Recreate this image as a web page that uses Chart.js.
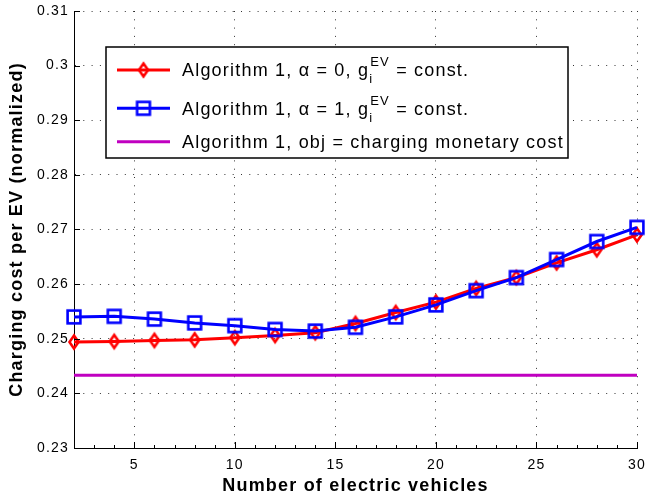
<!DOCTYPE html>
<html><head><meta charset="utf-8">
<script src="https://cdn.jsdelivr.net/npm/chart.js@4"></script>
<style>html,body{margin:0;padding:0;background:#fff;} #wrap{width:647px;height:498px;}</style>
</head><body><div id="wrap"><canvas id="c" width="647" height="498"></canvas></div>
<script>
// ---- data ----
const vehicles = [2, 4, 6, 8, 10, 12, 14, 16, 18, 20, 22, 24, 26, 28, 30];
const costAlpha0 = [0.2494, 0.2495, 0.2497, 0.2498, 0.2502, 0.2506, 0.2511, 0.2528, 0.2548, 0.2567, 0.2592, 0.2612, 0.2639, 0.2663, 0.2690];
const costAlpha1 = [0.2540, 0.2541, 0.2536, 0.2529, 0.2524, 0.2517, 0.2514, 0.2521, 0.2540, 0.2562, 0.2588, 0.2612, 0.2645, 0.2678, 0.2704];
const monetaryX = [2, 30];
const monetaryCost = [0.2433, 0.2433];
const xTickValues = [5, 10, 15, 20, 25, 30];
const yTickValues = [0.23, 0.24, 0.25, 0.26, 0.27, 0.28, 0.29, 0.30, 0.31];
const xTitle = 'Number of electric vehicles';
const yTitle = 'Charging cost per EV (normalized)';
const legendEntries = [
  {main: 'Algorithm 1, \u03b1 = 0, g', sub: 'i', sup: 'EV', tail: ' = const.'},
  {main: 'Algorithm 1, \u03b1 = 1, g', sub: 'i', sup: 'EV', tail: ' = const.'},
  {main: 'Algorithm 1, obj = charging monetary cost', sub: '', sup: '', tail: ''}
];

const FONT = '"Liberation Sans", Arial, Helvetica, sans-serif';
const RED = '#ff0000', BLUE = '#0000ff', MAGENTA = '#c000c0';

function makeDiamond() {
  const c = document.createElement('canvas'); c.width = 16; c.height = 22;
  const g = c.getContext('2d');
  g.strokeStyle = RED; g.lineWidth = 2.6; g.lineJoin = 'miter';
  g.beginPath(); g.moveTo(8, 11 - 6.4); g.lineTo(8 + 4.5, 11); g.lineTo(8, 11 + 6.4); g.lineTo(8 - 4.5, 11); g.closePath(); g.stroke();
  return c;
}
function makeSquare() {
  const c = document.createElement('canvas'); c.width = 18; c.height = 18;
  const g = c.getContext('2d');
  g.strokeStyle = BLUE; g.lineWidth = 2.6;
  g.strokeRect(9 - 6.4, 9 - 6.4, 12.8, 12.8);
  return c;
}
const diamondImg = makeDiamond();
const squareImg = makeSquare();

Chart.defaults.font.family = FONT;
Chart.defaults.color = '#000';

const spacingPlugin = {
  id: 'spacing',
  beforeUpdate(chart) { chart.ctx.letterSpacing = '1.2px'; },
  beforeLayout(chart) { chart.ctx.letterSpacing = '1.2px'; },
  beforeDraw(chart) { chart.ctx.letterSpacing = '1.2px'; }
};

const inwardTicks = {
  id: 'inwardTicks',
  afterDatasetsDraw(chart) {
    const ctx = chart.ctx, xs = chart.scales.x, ys = chart.scales.y, a = chart.chartArea;
    ctx.save();
    ctx.strokeStyle = '#000'; ctx.lineWidth = 1; ctx.setLineDash([]);
    ctx.beginPath();
    for (let v = Math.ceil(xs.min); v <= xs.max; v++) {
      const px = Math.round(xs.getPixelForValue(v)) + 0.5;
      const len = (v % 5 === 0) ? 6 : 3;
      ctx.moveTo(px, a.bottom); ctx.lineTo(px, a.bottom - len);
    }
    for (const t of ys.ticks) {
      const py = Math.round(ys.getPixelForValue(t.value)) + 0.5;
      ctx.moveTo(a.left, py); ctx.lineTo(a.left + 6, py);
    }
    ctx.stroke();
    ctx.restore();
  }
};

const customLegend = {
  id: 'customLegend',
  afterDraw(chart) {
    const ctx = chart.ctx, a = chart.chartArea;
    const bx = a.left + 32, by = a.top + 36, bw = 462, bh = 111;
    ctx.save();
    ctx.setLineDash([]);
    ctx.fillStyle = '#fff';
    ctx.fillRect(bx, by, bw, bh);
    ctx.strokeStyle = '#000'; ctx.lineWidth = 1.5;
    ctx.strokeRect(bx, by, bw, bh);
    const lineY = [23, 61.3, 94.7];
    const baseY = [29, 68, 101];
    const colors = [RED, BLUE, MAGENTA];
    const imgs = [diamondImg, squareImg, null];
    ctx.letterSpacing = '1.2px';
    legendEntries.forEach((e, i) => {
      const ly = by + lineY[i];
      ctx.strokeStyle = colors[i]; ctx.lineWidth = 3;
      ctx.beginPath(); ctx.moveTo(bx + 11, ly); ctx.lineTo(bx + 64, ly); ctx.stroke();
      if (imgs[i]) ctx.drawImage(imgs[i], bx + 37.5 - imgs[i].width / 2, ly - imgs[i].height / 2);
      ctx.fillStyle = '#000';
      ctx.textAlign = 'left'; ctx.textBaseline = 'alphabetic';
      let x = bx + 76;
      const yb = by + baseY[i];
      ctx.font = '18px ' + FONT;
      ctx.fillText(e.main, x, yb);
      x += ctx.measureText(e.main).width;
      if (e.sup || e.sub) {
        ctx.font = '13px ' + FONT;
        ctx.fillText(e.sup, x + 1, yb - 10);
        ctx.fillText(e.sub, x, yb + 7);
        x += Math.max(ctx.measureText(e.sup).width, ctx.measureText(e.sub).width) + 1;
        ctx.font = '18px ' + FONT;
        ctx.fillText(e.tail, x, yb);
      }
    });
    ctx.restore();
  }
};

const gridDash = [1, 7.3];
const gridColor = 'rgba(0,0,0,0.8)';

new Chart(document.getElementById('c').getContext('2d'), {
  type: 'line',
  data: {
    datasets: [
      {label: 'alpha1', data: vehicles.map((x, i) => ({x: x, y: costAlpha1[i]})), borderColor: BLUE, backgroundColor: BLUE,
       borderWidth: 3, pointStyle: squareImg, pointRadius: 7, pointHoverRadius: 7, tension: 0, fill: false, clip: false, order: 1},
      {label: 'alpha0', data: vehicles.map((x, i) => ({x: x, y: costAlpha0[i]})), borderColor: RED, backgroundColor: RED,
       borderWidth: 3, pointStyle: diamondImg, pointRadius: 7, pointHoverRadius: 7, tension: 0, fill: false, clip: false, order: 2},
      {label: 'monetary', data: monetaryX.map((x, i) => ({x: x, y: monetaryCost[i]})), borderColor: MAGENTA, backgroundColor: MAGENTA,
       borderWidth: 3, pointRadius: 0, tension: 0, fill: false, clip: false, order: 3}
    ]
  },
  options: {
    responsive: false, animation: false, devicePixelRatio: 1, events: [],
    layout: {padding: {top: 11, right: 8, left: 0, bottom: 0}},
    plugins: {legend: {display: false}, tooltip: {enabled: false}},
    scales: {
      x: {
        type: 'linear', min: 2, max: 30,
        afterBuildTicks: s => { s.ticks = xTickValues.map(v => ({value: v})); },
        afterFit: s => { s.height = 50; s.paddingLeft = 0; s.paddingRight = 0; },
        ticks: {font: {size: 14}, padding: 9, maxRotation: 0, autoSkip: false, color: '#000', callback: v => String(v)},
        grid: {drawTicks: false, color: gridColor, lineWidth: 1},
        border: {display: true, color: '#000', width: 1, dash: gridDash},
        title: {display: true, text: xTitle, color: '#000', font: {size: 18, weight: 'bold'}, padding: {top: 0, bottom: 1}}
      },
      y: {
        type: 'linear', min: 0.23, max: 0.31,
        afterBuildTicks: s => { s.ticks = yTickValues.map(v => ({value: v})); },
        afterFit: s => { s.width = 74; s.paddingTop = 0; s.paddingBottom = 0; },
        ticks: {font: {size: 14}, padding: 5, color: '#000', callback: v => String(+v.toFixed(2))},
        grid: {drawTicks: false, color: gridColor, lineWidth: 1},
        border: {display: true, color: '#000', width: 1, dash: gridDash},
        title: {display: true, text: yTitle, color: '#000', font: {size: 18, weight: 'bold'}, padding: {top: 6, bottom: 0}}
      }
    }
  },
  plugins: [spacingPlugin, inwardTicks, customLegend]
});
</script>
</body></html>
